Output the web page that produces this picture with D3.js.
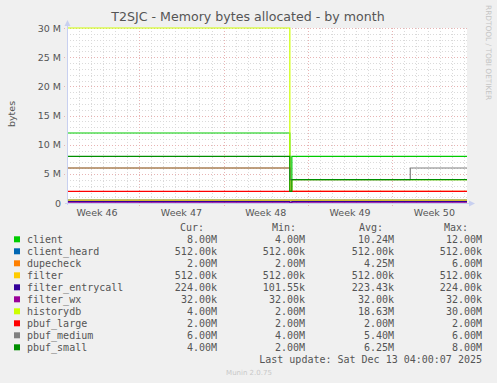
<!DOCTYPE html>
<html>
<head>
<meta charset="utf-8">
<script src="https://cdn.jsdelivr.net/npm/d3@7"></script>
<style>
  body { margin: 0; background: #f0f0f0; }
  svg { display: block; }
</style>
</head>
<body>
<svg id="chart" width="497" height="383"></svg>
<script>
// breakpoints of the step series (UTC)
const times = ["2025-11-11T00:00Z", "2025-11-29T12:00Z", "2025-11-29T16:00Z", "2025-12-09T12:00Z", "2025-12-14T05:00Z"];

const names = ["client", "client_heard", "dupecheck", "filter", "filter_entrycall",
               "filter_wx", "historydb", "pbuf_large", "pbuf_medium", "pbuf_small"];
const colors = ["#00CC00", "#0066B3", "#FF8000", "#FFCC00", "#330099",
                "#990099", "#CCFF00", "#FF0000", "#808080", "#008F00"];

// values in MiB at each breakpoint
const client          = [12, 4, 8, 8, 8];
const clientHeard     = [0.5, 0.5, 0.5, 0.5, 0.5];
const dupecheck       = [6, 2, 2, 2, 2];
const filter          = [0.5, 0.5, 0.5, 0.5, 0.5];
const filterEntrycall = [0.21875, 0.0992, 0.21875, 0.21875, 0.21875];
const filterWx        = [0.03125, 0.03125, 0.03125, 0.03125, 0.03125];
const historydb       = [30, 2, 4, 4, 4];
const pbufLarge       = [2, 2, 2, 2, 2];
const pbufMedium      = [6, 4, 4, 6, 6];
const pbufSmall       = [8, 2, 4, 4, 4];
const series = [client, clientHeard, dupecheck, filter, filterEntrycall,
                filterWx, historydb, pbufLarge, pbufMedium, pbufSmall];

// legend stats
const curVals = ["8.00M", "512.00k", "2.00M", "512.00k", "224.00k", "32.00k", "4.00M", "2.00M", "6.00M", "4.00M"];
const minVals = ["4.00M", "512.00k", "2.00M", "512.00k", "101.55k", "32.00k", "2.00M", "2.00M", "4.00M", "2.00M"];
const avgVals = ["10.24M", "512.00k", "4.25M", "512.00k", "223.43k", "32.00k", "18.63M", "2.00M", "5.40M", "6.25M"];
const maxVals = ["12.00M", "512.00k", "6.00M", "512.00k", "224.00k", "32.00k", "30.00M", "2.00M", "6.00M", "8.00M"];

const yTicks = [0, 5, 10, 15, 20, 25, 30];
const yTickLabels = ["0", "5 M", "10 M", "15 M", "20 M", "25 M", "30 M"];
const weekStarts = ["2025-11-10T00:00Z", "2025-11-17T00:00Z", "2025-11-24T00:00Z", "2025-12-01T00:00Z", "2025-12-08T00:00Z"];
const weekLabels = ["Week 46", "Week 47", "Week 48", "Week 49", "Week 50"];

const svg = d3.select("#chart");
const pLeft = 67, pRight = 467, pTop = 28, pBottom = 203;
const t0 = new Date(times[0]), t1 = new Date(times[times.length - 1]);

const x = d3.scaleUtc().domain([t0, t1]).range([pLeft, pRight]);
const y = d3.scaleLinear().domain([0, 30]).range([pBottom, pTop]);

svg.append("rect").attr("width", 497).attr("height", 383).attr("fill", "#f0f0f0");
svg.append("rect").attr("x", pLeft).attr("y", pTop).attr("width", pRight - pLeft).attr("height", pBottom - pTop).attr("fill", "#fff");

// grid
const grid = svg.append("g").attr("shape-rendering", "crispEdges");
d3.utcDay.range(t0, t1).forEach(d => {
  grid.append("line").attr("x1", Math.round(x(d)) + 0.5).attr("x2", Math.round(x(d)) + 0.5)
    .attr("y1", pTop).attr("y2", pBottom).attr("stroke", "#dadada").attr("stroke-dasharray", "1,2");
});
d3.range(1, 30).forEach(v => {
  grid.append("line").attr("x1", pLeft).attr("x2", pRight)
    .attr("y1", Math.round(y(v)) + 0.5).attr("y2", Math.round(y(v)) + 0.5)
    .attr("stroke", "#dadada").attr("stroke-dasharray", "1,2");
});
weekStarts.forEach(s => {
  const d = new Date(s);
  if (d <= t0) return;
  const px = Math.round(x(d)) + 0.5;
  grid.append("line").attr("x1", px).attr("x2", px).attr("y1", pTop).attr("y2", pBottom + 3)
    .attr("stroke", "#e8b4b4").attr("stroke-dasharray", "1,2");
});
yTicks.forEach(v => {
  if (v === 0) return;
  const py = Math.round(y(v)) + 0.5;
  grid.append("line").attr("x1", pLeft - 3).attr("x2", pRight + 1).attr("y1", py).attr("y2", py)
    .attr("stroke", "#e8b4b4").attr("stroke-dasharray", "1,2");
});

// series lines
const line = d3.line()
  .x((d, i) => x(new Date(times[i])))
  .y(d => y(d))
  .curve(d3.curveStepAfter);
series.forEach((s, k) => {
  svg.append("path").datum(s).attr("d", line)
    .attr("fill", "none").attr("stroke", colors[k]).attr("stroke-width", 1.2);
});

// axes
const axisColor = "#c8d0f0";
svg.append("line").attr("x1", pLeft + 0.5).attr("x2", pLeft + 0.5).attr("y1", pBottom + 2).attr("y2", pTop - 4)
  .attr("stroke", axisColor).attr("shape-rendering", "crispEdges");
svg.append("line").attr("x1", pLeft - 2).attr("x2", pRight + 2).attr("y1", pBottom + 0.5).attr("y2", pBottom + 0.5)
  .attr("stroke", axisColor).attr("shape-rendering", "crispEdges");
svg.append("path").attr("d", `M${pLeft - 2.5},${pTop - 2} L${pLeft + 3.5},${pTop - 2} L${pLeft + 0.5},${pTop - 8} Z`).attr("fill", axisColor);
svg.append("path").attr("d", `M${pRight + 2},${pBottom - 2.5} L${pRight + 2},${pBottom + 3.5} L${pRight + 8},${pBottom + 0.5} Z`).attr("fill", axisColor);

const txt = "#555";
yTicks.forEach((v, i) => {
  svg.append("text").attr("x", 61).attr("y", y(v) + 3.5).attr("text-anchor", "end")
    .attr("font-family", "DejaVu Sans").attr("font-size", 9.5).attr("fill", txt).text(yTickLabels[i]);
});
weekStarts.forEach((s, i) => {
  const mid = d3.utcHour.offset(new Date(s), 84);
  svg.append("text").attr("x", x(mid)).attr("y", 216).attr("text-anchor", "middle")
    .attr("font-family", "DejaVu Sans").attr("font-size", 9.5).attr("fill", txt).text(weekLabels[i]);
});

// titles
svg.append("text").attr("x", 248).attr("y", 21).attr("text-anchor", "middle")
  .attr("font-family", "DejaVu Sans").attr("font-size", 12.6).attr("fill", txt)
  .text("T2SJC - Memory bytes allocated - by month");
svg.append("text").attr("transform", "translate(15,114) rotate(-90)").attr("text-anchor", "middle")
  .attr("font-family", "DejaVu Sans").attr("font-size", 9.5).attr("fill", txt).text("bytes");
svg.append("text").attr("transform", "translate(486,5) rotate(90)").attr("text-anchor", "start")
  .attr("font-family", "DejaVu Sans").attr("font-size", 7.4).attr("fill", "#c4c4c4").text("RRDTOOL / TOBI OETIKER");

// legend
const mono = "DejaVu Sans Mono";
const hdr = [["Cur:", 204], ["Min:", 296], ["Avg:", 383], ["Max:", 468]];
hdr.forEach(h => {
  svg.append("text").attr("x", h[1]).attr("y", 230.5).attr("text-anchor", "end")
    .attr("font-family", mono).attr("font-size", 10).attr("fill", txt).text(h[0]);
});
const cols = [[curVals, 217], [minVals, 305], [avgVals, 394], [maxVals, 482]];
names.forEach((n, i) => {
  const by = 242.8 + i * 12;
  svg.append("rect").attr("x", 14).attr("y", by - 6.5).attr("width", 6).attr("height", 6).attr("fill", colors[i]);
  svg.append("text").attr("x", 27).attr("y", by).attr("font-family", mono).attr("font-size", 10)
    .attr("fill", txt).text(n);
  cols.forEach(c => {
    svg.append("text").attr("x", c[1]).attr("y", by).attr("text-anchor", "end")
      .attr("font-family", mono).attr("font-size", 10).attr("fill", txt).text(c[0][i]);
  });
});
svg.append("text").attr("x", 482).attr("y", 363).attr("text-anchor", "end")
  .attr("font-family", mono).attr("font-size", 10).attr("fill", txt)
  .text("Last update: Sat Dec 13 04:00:07 2025");
svg.append("text").attr("x", 249).attr("y", 375).attr("text-anchor", "middle")
  .attr("font-family", "DejaVu Sans").attr("font-size", 7).attr("fill", "#c8c8c8").text("Munin 2.0.75");
</script>
</body>
</html>
